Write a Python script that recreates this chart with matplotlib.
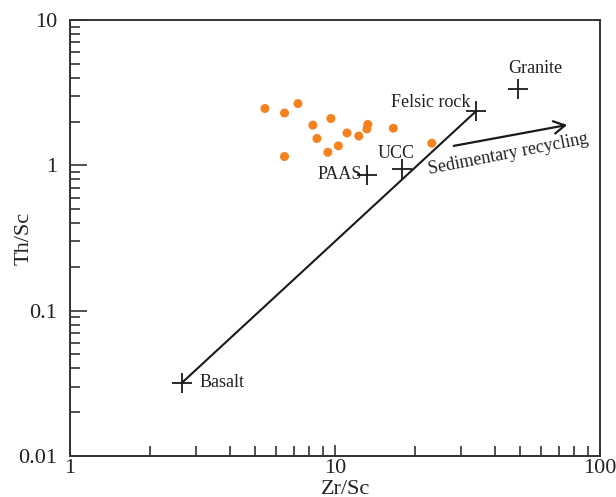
import matplotlib
matplotlib.use("Agg")
import matplotlib.pyplot as plt
from matplotlib.ticker import LogLocator, FixedLocator, FixedFormatter, NullFormatter

plt.rcParams['font.family'] = ['Liberation Serif', 'DejaVu Serif']

# sample data (Zr/Sc vs Th/Sc)
zr_sc = [5.44, 6.45, 7.25, 8.25, 9.65, 8.55, 6.45, 9.4, 10.3, 11.1, 12.3, 13.3, 13.2, 16.6, 23.2]
th_sc = [2.46, 2.29, 2.66, 1.89, 2.10, 1.53, 1.15, 1.23, 1.36, 1.67, 1.59, 1.91, 1.78, 1.80, 1.42]

# reference compositions
ref_names = ["Basalt", "Felsic rock", "Granite", "UCC", "PAAS"]
ref_zr = [2.65, 34.0, 49.2, 17.9, 13.2]
ref_th = [0.032, 2.35, 3.35, 0.95, 0.86]

# sedimentary recycling trend arrow
trend_start = (27.4, 1.35)
trend_end = (77.0, 1.91)

fig = plt.figure(figsize=(6.16, 4.97), dpi=100)
ax = fig.add_axes([0.1136, 0.0825, 0.8604, 0.8773])

ax.set_xscale("log")
ax.set_yscale("log")
ax.set_xlim(1, 100)
ax.set_ylim(0.01, 10)

# mixing line basalt -> felsic rock
ax.plot([ref_zr[0], ref_zr[1]], [ref_th[0], ref_th[1]], color="#1a1a1a", lw=1.5, zorder=2)

ax.scatter(zr_sc, th_sc, s=42, color="#f5821f", edgecolors="none", zorder=3)
ax.plot(ref_zr, ref_th, linestyle="none", marker="+", markersize=14,
        markeredgewidth=1.3, color="#1a1a1a", zorder=4)

ax.annotate("", xy=trend_end, xytext=trend_start,
            arrowprops=dict(arrowstyle="->,head_length=0.8,head_width=0.45",
                            color="#1a1a1a", lw=1.6))

txt = dict(fontsize=13, color="#222222")
ax.text(3.08, 0.032, "Basalt", ha="left", va="center", **txt)
ax.text(23.0, 2.7, "Felsic rock", ha="center", va="center", **txt)
ax.text(57.0, 4.6, "Granite", ha="center", va="center", **txt)
ax.text(17.0, 1.20, "UCC", ha="center", va="center", **txt)
ax.text(12.6, 0.86, "PAAS", ha="right", va="center", **txt)
ax.text(45.0, 1.20, "Sedimentary recycling", ha="center", va="center",
        rotation=11, rotation_mode="anchor", **txt)

ax.xaxis.set_major_locator(FixedLocator([1, 10, 100]))
ax.xaxis.set_major_formatter(FixedFormatter(["1", "10", "100"]))
ax.yaxis.set_major_locator(FixedLocator([0.01, 0.1, 1, 10]))
ax.yaxis.set_major_formatter(FixedFormatter(["0.01", "0.1", "1", "10"]))
ax.xaxis.set_minor_locator(LogLocator(base=10, subs=range(2, 10), numticks=20))
ax.yaxis.set_minor_locator(LogLocator(base=10, subs=range(2, 10), numticks=20))
ax.xaxis.set_minor_formatter(NullFormatter())
ax.yaxis.set_minor_formatter(NullFormatter())

ax.tick_params(which="both", direction="in", top=False, right=False,
               color="#333333", labelsize=16, labelcolor="#222222")
ax.tick_params(axis="y", which="major", length=12, width=1.2, pad=9)
ax.tick_params(axis="y", which="minor", length=7, width=1.2)
ax.tick_params(axis="x", which="major", length=8, width=1.2, pad=2)
ax.tick_params(axis="x", which="minor", length=7, width=1.2)

for sp in ax.spines.values():
    sp.set_linewidth(1.4)
    sp.set_color("#333333")

ax.set_xlabel("Zr/Sc", fontsize=16, color="#222222")
ax.set_ylabel("Th/Sc", fontsize=16, color="#222222")
ax.xaxis.set_label_coords(0.52, -0.054)
ax.yaxis.set_label_coords(-0.068, 0.5)

fig.savefig("out.png", dpi=100)
